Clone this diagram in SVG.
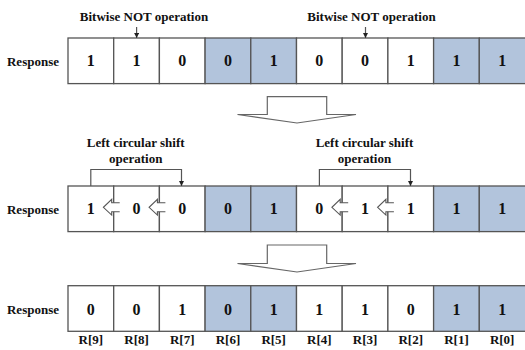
<svg xmlns="http://www.w3.org/2000/svg" width="525" height="350" viewBox="0 0 525 350">
<defs>
<style>
.c{fill:#fff;stroke:#555;stroke-width:1.3}
.b{fill:#b2c4dc;stroke:#555;stroke-width:1.3}
.t{font-family:"Liberation Serif","Times New Roman",serif;font-weight:bold;fill:#111}
.d{font-size:16px;text-anchor:middle}
.l{font-size:13px}
.m{text-anchor:middle}
.e{text-anchor:end}
.ln{fill:none;stroke:#555;stroke-width:1.2}
.ha{fill:#fff;stroke:#555;stroke-width:1.1}
.big{fill:#fff;stroke:#666;stroke-width:1.2}
</style>
<marker id="ah" viewBox="0 0 6 6" refX="6" refY="3" markerWidth="5" markerHeight="5" orient="auto" markerUnits="userSpaceOnUse">
<path d="M0,0 L6,3 L0,6 z" fill="#222"/>
</marker>
</defs>
<rect width="525" height="350" fill="#fff"/>

<g id="row1">
<text class="t l e" x="59" y="66">Response</text>
<rect class="c" x="68" y="38" width="45.7" height="45.6"/>
<rect class="c" x="113.7" y="38" width="45.7" height="45.6"/>
<rect class="c" x="159.4" y="38" width="45.7" height="45.6"/>
<rect class="b" x="205.1" y="38" width="45.7" height="45.6"/>
<rect class="b" x="250.8" y="38" width="45.7" height="45.6"/>
<rect class="c" x="296.5" y="38" width="45.7" height="45.6"/>
<rect class="c" x="342.2" y="38" width="45.7" height="45.6"/>
<rect class="c" x="387.9" y="38" width="45.7" height="45.6"/>
<rect class="b" x="433.6" y="38" width="45.7" height="45.6"/>
<rect class="b" x="479.3" y="38" width="48" height="45.6"/>
<text class="t d" x="90.85" y="66">1</text>
<text class="t d" x="136.55" y="66">1</text>
<text class="t d" x="182.25" y="66">0</text>
<text class="t d" x="227.95" y="66">0</text>
<text class="t d" x="273.65" y="66">1</text>
<text class="t d" x="319.35" y="66">0</text>
<text class="t d" x="365.05" y="66">0</text>
<text class="t d" x="410.75" y="66">1</text>
<text class="t d" x="456.45" y="66">1</text>
<text class="t d" x="502.15" y="66">1</text>
</g>

<g id="not1">
<text class="t l m" x="144" y="20.5">Bitwise NOT operation</text>
</g>
<g id="not2">
<text class="t l m" x="371.5" y="20.5">Bitwise NOT operation</text>
</g>

<g id="row2">
<text class="t l e" x="59" y="214">Response</text>
<rect class="c" x="68" y="186" width="45.7" height="45.6"/>
<rect class="c" x="113.7" y="186" width="45.7" height="45.6"/>
<rect class="c" x="159.4" y="186" width="45.7" height="45.6"/>
<rect class="b" x="205.1" y="186" width="45.7" height="45.6"/>
<rect class="b" x="250.8" y="186" width="45.7" height="45.6"/>
<rect class="c" x="296.5" y="186" width="45.7" height="45.6"/>
<rect class="c" x="342.2" y="186" width="45.7" height="45.6"/>
<rect class="c" x="387.9" y="186" width="45.7" height="45.6"/>
<rect class="b" x="433.6" y="186" width="45.7" height="45.6"/>
<rect class="b" x="479.3" y="186" width="48" height="45.6"/>
<text class="t d" x="90.85" y="214">1</text>
<text class="t d" x="136.55" y="214">0</text>
<text class="t d" x="182.25" y="214">0</text>
<text class="t d" x="227.95" y="214">0</text>
<text class="t d" x="273.65" y="214">1</text>
<text class="t d" x="319.35" y="214">0</text>
<text class="t d" x="365.05" y="214">1</text>
<text class="t d" x="410.75" y="214">1</text>
<text class="t d" x="456.45" y="214">1</text>
<text class="t d" x="502.15" y="214">1</text>
</g>

<g id="shift1">
<text class="t l m" x="135.7" y="147">Left circular shift</text>
<text class="t l m" x="135.7" y="163">operation</text>
</g>
<g id="shift2">
<text class="t l m" x="364.5" y="147">Left circular shift</text>
<text class="t l m" x="364.5" y="163">operation</text>
</g>

<g id="row3">
<text class="t l e" x="59" y="314">Response</text>
<rect class="c" x="68" y="285.7" width="45.7" height="45.6"/>
<rect class="c" x="113.7" y="285.7" width="45.7" height="45.6"/>
<rect class="c" x="159.4" y="285.7" width="45.7" height="45.6"/>
<rect class="b" x="205.1" y="285.7" width="45.7" height="45.6"/>
<rect class="b" x="250.8" y="285.7" width="45.7" height="45.6"/>
<rect class="c" x="296.5" y="285.7" width="45.7" height="45.6"/>
<rect class="c" x="342.2" y="285.7" width="45.7" height="45.6"/>
<rect class="c" x="387.9" y="285.7" width="45.7" height="45.6"/>
<rect class="b" x="433.6" y="285.7" width="45.7" height="45.6"/>
<rect class="b" x="479.3" y="285.7" width="48" height="45.6"/>
<text class="t d" x="90.85" y="314.5">0</text>
<text class="t d" x="136.55" y="314.5">0</text>
<text class="t d" x="182.25" y="314.5">1</text>
<text class="t d" x="227.95" y="314.5">0</text>
<text class="t d" x="273.65" y="314.5">1</text>
<text class="t d" x="319.35" y="314.5">1</text>
<text class="t d" x="365.05" y="314.5">1</text>
<text class="t d" x="410.75" y="314.5">0</text>
<text class="t d" x="456.45" y="314.5">1</text>
<text class="t d" x="502.15" y="314.5">1</text>
<text class="t l m" x="90.85" y="344">R[9]</text>
<text class="t l m" x="136.55" y="344">R[8]</text>
<text class="t l m" x="182.25" y="344">R[7]</text>
<text class="t l m" x="227.95" y="344">R[6]</text>
<text class="t l m" x="273.65" y="344">R[5]</text>
<text class="t l m" x="319.35" y="344">R[4]</text>
<text class="t l m" x="365.05" y="344">R[3]</text>
<text class="t l m" x="410.75" y="344">R[2]</text>
<text class="t l m" x="456.45" y="344">R[1]</text>
<text class="t l m" x="502.15" y="344">R[0]</text>
</g>

<g id="connectors">
<line class="ln" x1="136.6" y1="27" x2="136.6" y2="38" marker-end="url(#ah)"/>
<line class="ln" x1="365.5" y1="27" x2="365.5" y2="38" marker-end="url(#ah)"/>
<polyline class="ln" points="90.8,186 90.8,169.5 181.5,169.5 181.5,186" marker-end="url(#ah)"/>
<polyline class="ln" points="319.4,186 319.4,169.5 410.5,169.5 410.5,186" marker-end="url(#ah)"/>
<path class="ha" d="M119.7,202.7 L111.7,202.7 L111.7,199.3 L103.4,207.3 L111.7,215.1 L111.7,211.7 L119.7,211.7"/>
<path class="ha" d="M165.4,202.7 L157.4,202.7 L157.4,199.3 L149.1,207.3 L157.4,215.1 L157.4,211.7 L165.4,211.7"/>
<path class="ha" d="M348.2,202.7 L340.2,202.7 L340.2,199.3 L331.9,207.3 L340.2,215.1 L340.2,211.7 L348.2,211.7"/>
<path class="ha" d="M393.9,202.7 L385.9,202.7 L385.9,199.3 L377.6,207.3 L385.9,215.1 L385.9,211.7 L393.9,211.7"/>
<polygon class="big" points="267.3,96.7 326.7,96.7 326.7,114.5 356,114.5 297,123 237.5,114.5 267.3,114.5"/>
<polygon class="big" points="267.3,245 326.7,245 326.7,263.5 356,263.5 297,272 237.5,263.5 267.3,263.5"/>
</g>
</svg>
